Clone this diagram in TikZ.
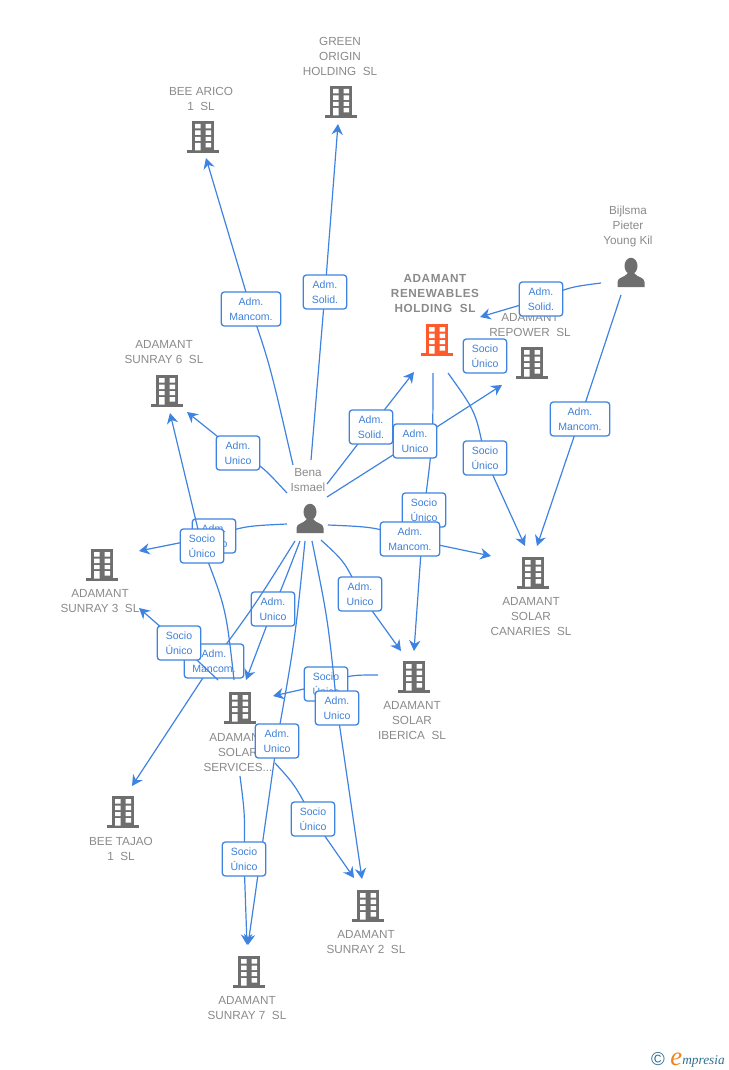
\documentclass[tikz,border=0pt]{standalone}
\usepackage{fontspec}
\setmainfont{Liberation Sans}
\newfontfamily\logofont{Liberation Serif}
\usetikzlibrary{arrows.meta}
\definecolor{linkblue}{HTML}{3F83E0}
\definecolor{badgetext}{HTML}{3F80D8}
\definecolor{labelgray}{HTML}{8A8A8A}
\definecolor{icongray}{HTML}{6E6E6E}
\definecolor{iconorange}{HTML}{FF5A2B}
\definecolor{logoteal}{HTML}{2F7090}
\definecolor{logoorange}{HTML}{F0841E}
\tikzset{
  lab/.style={text=labelgray,align=center,inner sep=0pt,font=\fontsize{8.8}{11.25}\selectfont},
  boldlab/.style={text=labelgray,align=center,inner sep=0pt,font=\fontsize{8.8}{11.25}\selectfont\bfseries\addfontfeature{LetterSpace=5}},
  badge/.style={draw=linkblue,line width=0.95pt,rounded corners=2.2pt,fill=white,text=badgetext,align=center,
    inner sep=0pt,minimum width=32.5pt,minimum height=25.5pt,font=\fontsize{7.9}{11.25}\selectfont},
  widebadge/.style={minimum width=44.5pt},
  conn/.style={draw=linkblue,line width=0.9pt,-{Stealth[length=8pt,width=8.5pt,inset=2.6pt]}},
  pics/bldg/.style={code={
    \fill[#1] (-11,-16) rectangle (11,14);
    \fill[#1] (-16,13) rectangle (16,16);
    \fill[white] (-8,-13) rectangle (-2.5,-8.5) (2.5,-13) rectangle (8,-8.5)
                 (-8,-6.5) rectangle (-2.5,-2) (2.5,-6.5) rectangle (8,-2)
                 (-8,0) rectangle (-2.5,4)  (2.5,0) rectangle (8,4)
                 (-8,6) rectangle (-2.5,13.5)  (2.5,6) rectangle (8,10.5);
  }},
  pics/person/.style={code={
    \fill[#1] (0,-7) ellipse [x radius=6.5,y radius=8.2];
    \fill[#1] (-13.5,14) -- (-13.5,9) .. controls (-13.5,4) and (-6,4.5) .. (-3,0)
      -- (3,0) .. controls (6,4.5) and (13.5,4) .. (13.5,9) -- (13.5,14) -- cycle;
  }},
}
% [badge style], name, badge position, text, start, control, end
% curved from the start to the badge, straight from the badge to the end
\newcommand\rel[7][]{%
  \coordinate (#2s) at (#5);
  \coordinate (#2c) at (#6);
  \coordinate (#2b) at (#3);
  \coordinate (#2e) at (#7);
  \draw[conn] (#2s) .. controls (#2c) .. (#2b) -- (#2e);
  \node[badge,#1] (#2) at (#2b) {#4};
}
\begin{document}
\begin{tikzpicture}[x=0.75pt,y=-0.75pt]
\useasboundingbox (0,0) rectangle (728,1070);
% labels
\node[lab] (tArico) at (201,98.5) {BEE ARICO\\1\ \ SL};
\node[lab] (tGreen) at (340,56) {GREEN\\ORIGIN\\HOLDING\ \ SL};
\node[lab] (tS6) at (164,352.5) {ADAMANT\\SUNRAY 6\ \ SL};
\node[boldlab] (tRen) at (435,294) {ADAMANT\\RENEWABLES\\HOLDING\ \ SL};
\node[lab] (tRep) at (530,325) {ADAMANT\\REPOWER\ \ SL};
\node[lab] (tBij) at (628,226) {Bijlsma\\Pieter\\Young Kil};
\node[lab] (tBena) at (308,480) {Bena\\Ismael};
\node[lab] (tS3) at (100,601.5) {ADAMANT\\SUNRAY 3\ \ SL};
\node[lab] (tCan) at (531,617) {ADAMANT\\SOLAR\\CANARIES\ \ SL};
\node[lab] (tIbe) at (412,721) {ADAMANT\\SOLAR\\IBERICA\ \ SL};
\node[lab] (tSer) at (238,753) {ADAMANT\\SOLAR\\SERVICES...};
\node[lab] (tTaj) at (121,848.5) {BEE TAJAO\\1\ \ SL};
\node[lab] (tS2) at (366,942.5) {ADAMANT\\SUNRAY 2\ \ SL};
\node[lab] (tS7) at (247,1008.5) {ADAMANT\\SUNRAY 7\ \ SL};
% icons
\pic (iArico) at (203,137) {bldg=icongray};
\pic (iGreen) at (341,102) {bldg=icongray};
\pic (iS6) at (167,391) {bldg=icongray};
\pic (iRen) at (437,340) {bldg=iconorange};
\pic (iRep) at (532,363) {bldg=icongray};
\pic (iS3) at (102,565) {bldg=icongray};
\pic (iCan) at (533,573) {bldg=icongray};
\pic (iIbe) at (414,677) {bldg=icongray};
\pic (iSer) at (240,708) {bldg=icongray};
\pic (iTaj) at (123,812) {bldg=icongray};
\pic (iS2) at (368,906) {bldg=icongray};
\pic (iS7) at (249,972) {bldg=icongray};
\pic (iBena) at (310,519) {person=icongray};
\pic (iBij) at (631,273) {person=icongray};
% relations, in stacking order
\rel[widebadge]{rArico}{251,309}{Adm.\\Mancom.}{293,465}{270,365}{206,158}
\rel{rGreen}{325,292}{Adm.\\Solid.}{311,460}{318,376}{338,124}
\rel{rS6}{238,453}{Adm.\\Unico}{287,493}{262,466}{187,412}
\rel{rRen}{371,427}{Adm.\\Solid.}{327,484}{349,456}{414,372}
\rel{rIbe}{424,510}{Socio\\Único}{433,373}{433,440}{414,651}
\rel{rRep}{415,441}{Adm.\\Unico}{327,497}{371,469}{502,385}
\rel{rCanB}{485,458}{Socio\\Único}{448,373}{476,412}{525,546}
\node[badge] (rRepU) at (485,356) {Socio\\Único};
\rel{rBij}{541,299}{Adm.\\Solid.}{601,283}{570,287}{480,317}
\rel[widebadge]{rCanJ}{580,419}{Adm.\\Mancom.}{621,295}{601,357}{537,546}
\rel[widebadge]{rCan}{410,539}{Adm.\\Mancom.}{328,525}{375,527}{491,556}
\rel{rS3}{214,536}{Adm.\\Unico}{287,524}{245,526}{139,551}
\rel{rUni}{360,594}{Adm.\\Unico}{321,540}{345,562}{401,651}
\rel{rSer}{273,609}{Adm.\\Unico}{300,541}{285,580}{246,680}
\rel[widebadge]{rTaj}{214,661}{Adm.\\Mancom.}{295,541}{255,605}{132,786}
\rel{rS3b}{179,643}{Socio\\Único}{218,680}{198,661}{139,608}
\rel{rS6b}{202,546}{Socio\\Único}{234,680}{226,608}{170,413}
\rel{rS7}{277,741}{Adm.\\Unico}{305,541}{295,640}{248,945}
\rel{rIS}{326,684}{Socio\\Único}{378,675}{350,675}{273,696}
\rel{rS2}{337,708}{Adm.\\Unico}{312,541}{328,620}{362,879}
\rel{rS2b}{313,819}{Socio\\Único}{275,763}{295,785}{354,878}
\rel{rS7b}{244,859}{Socio\\Único}{240,776}{245,815}{247,945}
% logo
\node[inner sep=0pt,text=logoteal,font=\fontsize{14}{14}\selectfont] (logoC) at (658,1059) {©};
\node[inner sep=0pt,anchor=base west,text=logoorange,font=\logofont\itshape\fontsize{20}{20}\selectfont] (logoE) at (670,1065) {e};
\node[inner sep=0pt,anchor=base west,text=logoteal,font=\logofont\itshape\fontsize{10}{12}\selectfont] (logoT) at (682,1064) {mpresia};
\end{tikzpicture}
\end{document}
